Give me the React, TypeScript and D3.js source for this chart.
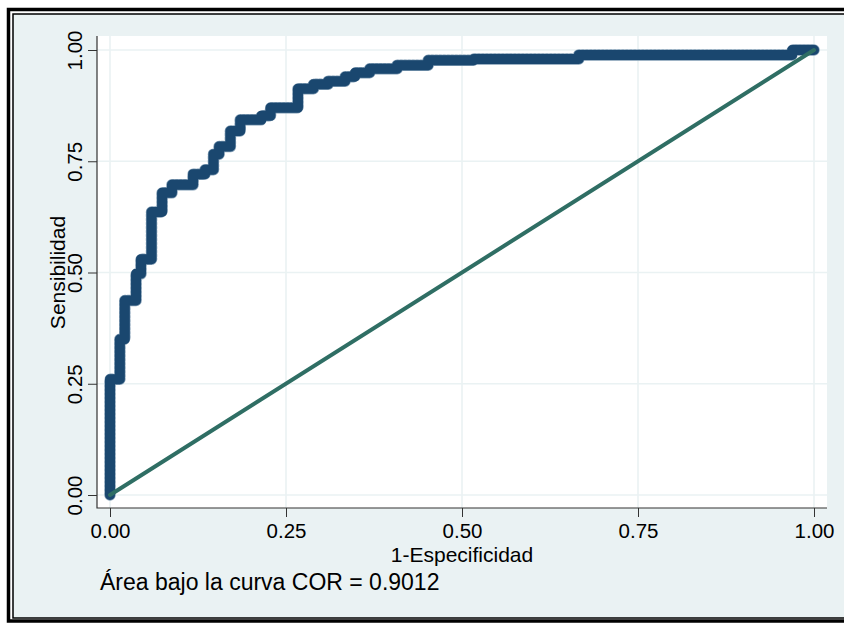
import React, { useEffect, useRef } from 'react';
import * as d3 from 'd3';

// ROC curve points (1-specificity, sensitivity)
const fpr = [0, 0, 0.014, 0.021, 0.037, 0.044, 0.059, 0.074, 0.088, 0.118, 0.135, 0.147, 0.155, 0.171, 0.185, 0.215, 0.228, 0.267, 0.289, 0.31, 0.334, 0.348, 0.369, 0.408, 0.452, 0.517, 0.666, 0.969, 1];
const tpr = [0, 0.26, 0.35, 0.437, 0.497, 0.53, 0.636, 0.679, 0.697, 0.721, 0.731, 0.766, 0.783, 0.818, 0.843, 0.852, 0.87, 0.913, 0.923, 0.93, 0.94, 0.949, 0.958, 0.966, 0.977, 0.98, 0.989, 1, 1];
const ticks = [0, 0.25, 0.5, 0.75, 1];
const xTitle = '1-Especificidad';
const yTitle = 'Sensibilidad';
const note = 'Área bajo la curva COR = 0.9012';

const W = 844;
const H = 623;
const font = '"Liberation Sans", Arial, Helvetica, sans-serif';

export default function App() {
  const ref = useRef<SVGSVGElement>(null);

  useEffect(() => {
    const svg = d3.select(ref.current);
    svg.selectAll('*').remove();

    const plot = { left: 97, right: 827, top: 36, bottom: 508 };
    const x = d3.scaleLinear().domain([0, 1]).range([110, 814]);
    const y = d3.scaleLinear().domain([0, 1]).range([495, 50]);

    // background + frame
    svg.append('rect').attr('width', W).attr('height', H).attr('fill', '#fff');
    svg.append('rect')
      .attr('x', 13).attr('y', 14).attr('width', W).attr('height', 604)
      .attr('fill', '#eaf2f3').attr('stroke', '#000').attr('stroke-width', 1.5);
    svg.append('rect')
      .attr('x', 8.5).attr('y', 9.5).attr('width', W).attr('height', 611.5)
      .attr('fill', 'none').attr('stroke', '#000').attr('stroke-width', 3.5);

    svg.append('rect')
      .attr('x', plot.left).attr('y', plot.top)
      .attr('width', plot.right - plot.left).attr('height', plot.bottom - plot.top)
      .attr('fill', '#fff');

    // grid
    const grid = svg.append('g').attr('stroke', '#eaf2f3').attr('stroke-width', 1.6);
    grid.selectAll('line.gx').data(ticks).join('line')
      .attr('class', 'gx')
      .attr('x1', (d) => x(d)).attr('x2', (d) => x(d))
      .attr('y1', plot.top).attr('y2', plot.bottom);
    grid.selectAll('line.gy').data(ticks).join('line')
      .attr('class', 'gy')
      .attr('y1', (d) => y(d)).attr('y2', (d) => y(d))
      .attr('x1', plot.left).attr('x2', plot.right);

    // axes
    const fmt = d3.format('.2f');
    const xAxis = svg.append('g')
      .attr('transform', `translate(0,${plot.bottom})`)
      .call(d3.axisBottom(x).tickValues(ticks).tickFormat((d) => fmt(d as number)).tickSize(9).tickPadding(6));
    xAxis.select('.domain').remove();
    xAxis.selectAll('line').attr('stroke', '#333');
    xAxis.selectAll('text')
      .attr('font-family', font).attr('font-size', 20.5).attr('fill', '#000')
      .attr('dy', null).attr('y', 30);

    const yAxis = svg.append('g')
      .attr('transform', `translate(${plot.left},0)`)
      .call(d3.axisLeft(y).tickValues(ticks).tickFormat((d) => fmt(d as number)).tickSize(9));
    yAxis.select('.domain').remove();
    yAxis.selectAll('line').attr('stroke', '#333');
    yAxis.selectAll('text')
      .attr('font-family', font).attr('font-size', 20.5).attr('fill', '#000')
      .attr('x', null).attr('dy', null)
      .attr('text-anchor', 'middle')
      .attr('transform', 'translate(-15,0) rotate(-90)');

    svg.append('path')
      .attr('d', `M${plot.left},${plot.top}V${plot.bottom}H${plot.right}`)
      .attr('fill', 'none').attr('stroke', '#333').attr('stroke-width', 1.2);

    // titles
    svg.append('text')
      .attr('x', (x(0) + x(1)) / 2).attr('y', 562)
      .attr('text-anchor', 'middle')
      .attr('font-family', font).attr('font-size', 21)
      .text(xTitle);
    svg.append('text')
      .attr('transform', `translate(65,${(y(0) + y(1)) / 2}) rotate(-90)`)
      .attr('text-anchor', 'middle')
      .attr('font-family', font).attr('font-size', 21)
      .text(yTitle);
    svg.append('text')
      .attr('x', 100).attr('y', 590)
      .attr('font-family', font).attr('font-size', 23)
      .text(note);

    // ROC curve
    const pts = fpr.map((d, i) => [d, tpr[i]] as [number, number]);
    const line = d3.line<[number, number]>()
      .x((d) => x(d[0]))
      .y((d) => y(d[1]))
      .curve(d3.curveStepAfter);
    svg.append('path')
      .attr('d', line(pts))
      .attr('fill', 'none').attr('stroke', '#7f9bb3')
      .attr('stroke-width', 11.5).attr('stroke-dasharray', '2 2')
      .attr('stroke-linejoin', 'round').attr('stroke-linecap', 'round');
    svg.append('path')
      .attr('d', line(pts))
      .attr('fill', 'none').attr('stroke', '#1a476f')
      .attr('stroke-width', 10)
      .attr('stroke-linejoin', 'round').attr('stroke-linecap', 'round');

    // reference line
    svg.append('line')
      .attr('x1', x(0)).attr('y1', y(0))
      .attr('x2', x(1)).attr('y2', y(1))
      .attr('stroke', '#2f6e64').attr('stroke-width', 4)
      .attr('stroke-linecap', 'round');
  }, []);

  return (
    <svg
      ref={ref}
      width={W}
      height={H}
      style={{ position: 'absolute', left: 0, top: 0, display: 'block' }}
    />
  );
}
